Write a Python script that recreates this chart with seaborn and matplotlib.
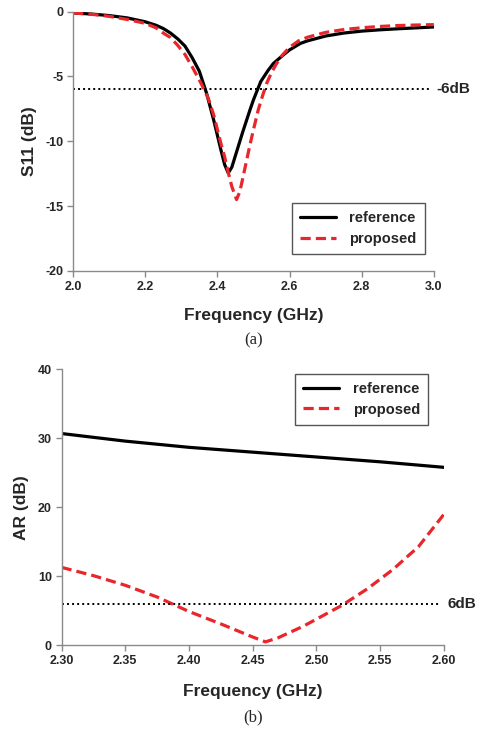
import matplotlib
matplotlib.use("Agg")
import matplotlib.pyplot as plt
import seaborn as sns
import pandas as pd

# ---- S11 data (GHz, dB) ----
s11_freq_ref = [2.00, 2.05, 2.10, 2.15, 2.20, 2.23, 2.25, 2.27, 2.29, 2.31, 2.33, 2.35,
                2.37, 2.39, 2.41, 2.42, 2.43, 2.44, 2.45, 2.46, 2.47, 2.49, 2.50, 2.52,
                2.54, 2.555, 2.58, 2.60, 2.63, 2.65, 2.70, 2.75, 2.80, 2.85, 2.90, 2.95, 3.00]
s11_ref = [-0.10, -0.18, -0.30, -0.48, -0.78, -1.05, -1.30, -1.65, -2.10, -2.65, -3.55, -4.60,
           -6.30, -8.40, -10.70, -11.80, -12.45, -12.00, -11.10, -10.20, -9.30, -7.60, -6.80, -5.40,
           -4.55, -4.00, -3.40, -2.95, -2.45, -2.25, -1.88, -1.65, -1.50, -1.40, -1.32, -1.25, -1.18]

s11_freq_prop = [2.00, 2.05, 2.10, 2.15, 2.20, 2.23, 2.25, 2.27, 2.29, 2.31, 2.33, 2.355,
                 2.375, 2.39, 2.41, 2.42, 2.43, 2.44, 2.453, 2.462, 2.47, 2.48, 2.49, 2.50,
                 2.513, 2.525, 2.537, 2.55, 2.564, 2.58, 2.60, 2.625, 2.65, 2.70, 2.75, 2.80,
                 2.85, 2.90, 2.95, 3.00]
s11_prop = [-0.10, -0.20, -0.36, -0.60, -0.90, -1.25, -1.65, -2.00, -2.60, -3.30, -4.25, -5.55,
            -6.70, -8.00, -10.20, -11.20, -12.40, -13.50, -14.50, -13.90, -12.90, -11.60, -10.30, -9.10,
            -7.60, -6.50, -5.50, -4.70, -4.00, -3.35, -2.75, -2.25, -1.97, -1.60, -1.38, -1.24,
            -1.14, -1.07, -1.03, -1.00]

# ---- Axial ratio data (GHz, dB) ----
ar_freq_ref = [2.30, 2.35, 2.40, 2.45, 2.50, 2.55, 2.60]
ar_ref = [30.7, 29.6, 28.7, 28.0, 27.3, 26.6, 25.8]

ar_freq_prop = [2.30, 2.325, 2.35, 2.375, 2.40, 2.425, 2.45, 2.46, 2.47, 2.49, 2.50,
                2.52, 2.54, 2.56, 2.58, 2.60]
ar_prop = [11.3, 10.1, 8.7, 7.0, 4.9, 3.1, 1.2, 0.5, 1.1, 2.8, 3.8,
           5.8, 8.2, 11.0, 14.3, 19.0]

s11_threshold = -6
ar_threshold = 6

series_names = ["reference", "proposed"]
s11_ticks_x = [2.0, 2.2, 2.4, 2.6, 2.8, 3.0]
s11_ticks_y = [0, -5, -10, -15, -20]
ar_ticks_x = [2.30, 2.35, 2.40, 2.45, 2.50, 2.55, 2.60]
ar_ticks_y = [0, 10, 20, 30, 40]

sns.set_style("white")
plt.rcParams["font.family"] = ["Liberation Sans", "DejaVu Sans"]
plt.rcParams["font.weight"] = "bold"

RED = "#e8262b"
palette = {"reference": "black", "proposed": RED}
dashes = {"reference": "", "proposed": (3.2, 1.6)}

s11_df = pd.concat([
    pd.DataFrame({"freq": s11_freq_ref, "val": s11_ref, "series": "reference"}),
    pd.DataFrame({"freq": s11_freq_prop, "val": s11_prop, "series": "proposed"}),
])
ar_df = pd.concat([
    pd.DataFrame({"freq": ar_freq_ref, "val": ar_ref, "series": "reference"}),
    pd.DataFrame({"freq": ar_freq_prop, "val": ar_prop, "series": "proposed"}),
])

fig = plt.figure(figsize=(4.81, 7.30), dpi=100)
ax1 = fig.add_axes([0.152, 0.629, 0.750, 0.355])
ax2 = fig.add_axes([0.128, 0.116, 0.795, 0.378])

SPINE = "#8a8a8a"


def style_axes(ax):
    for s in ["top", "right"]:
        ax.spines[s].set_visible(False)
    for s in ["left", "bottom"]:
        ax.spines[s].set_color(SPINE)
        ax.spines[s].set_linewidth(1.0)
    ax.tick_params(axis="both", direction="out", length=4, width=1.0, color=SPINE,
                   labelsize=9, pad=3, left=True, bottom=True)
    for lab in ax.get_xticklabels() + ax.get_yticklabels():
        lab.set_fontweight("bold")


def draw_panel(ax, df, thr, thr_label, xlim, ylim, xt, yt, xfmt, ylabel, leg_bbox,
               tag, xpad, tag_y):
    sns.lineplot(data=df, x="freq", y="val", hue="series", style="series",
                 hue_order=series_names, style_order=series_names,
                 palette=palette, dashes=dashes, sort=False, linewidth=2.3,
                 estimator=None, ax=ax)
    ax.hlines(thr, xlim[0], xlim[1] - 0.01 * (xlim[1] - xlim[0]), colors="black",
              linestyles=(0, (1, 1.6)), linewidth=1.4)
    ax.text(xlim[1] + 0.008 * (xlim[1] - xlim[0]), thr, thr_label, ha="left", va="center",
            fontsize=11, fontweight="bold", clip_on=False)
    ax.set_xlim(*xlim)
    ax.set_ylim(*ylim)
    ax.set_xticks(xt)
    ax.set_xticklabels([xfmt.format(v) for v in xt])
    ax.set_yticks(yt)
    ax.set_yticklabels([str(v) for v in yt])
    ax.set_xlabel("Frequency (GHz)", fontsize=12.5, fontweight="bold", labelpad=xpad)
    ax.set_ylabel(ylabel, fontsize=12.5, fontweight="bold", labelpad=6)
    handles, labels = ax.get_legend_handles_labels()
    leg = ax.legend(handles, labels, loc="upper left", bbox_to_anchor=leg_bbox,
                    bbox_transform=fig.transFigure, frameon=True, fancybox=False,
                    edgecolor="#555555", framealpha=1, handlelength=2.5,
                    prop={"size": 10.5, "weight": "bold"}, borderpad=0.55,
                    labelspacing=0.45, handletextpad=0.9, borderaxespad=0)
    leg.get_frame().set_linewidth(1.0)
    style_axes(ax)
    ax.text(0.5, tag_y, tag, transform=ax.transAxes,
            ha="center", va="center", fontsize=12,
            family=["Liberation Serif", "DejaVu Serif"], fontweight="normal")


draw_panel(ax1, s11_df, s11_threshold, "-6dB", (2.0, 3.0), (-20, 0),
           s11_ticks_x, s11_ticks_y, "{:.1f}", "S11 (dB)",
           (291.7 / 481, 1 - 203.3 / 730), "(a)", 11, -0.27)
draw_panel(ax2, ar_df, ar_threshold, "6dB", (2.30, 2.60), (0, 40),
           ar_ticks_x, ar_ticks_y, "{:.2f}", "AR (dB)",
           (295 / 481, 1 - 374 / 730), "(b)", 12, -0.26)

fig.savefig("out.png", dpi=100, facecolor="white")
